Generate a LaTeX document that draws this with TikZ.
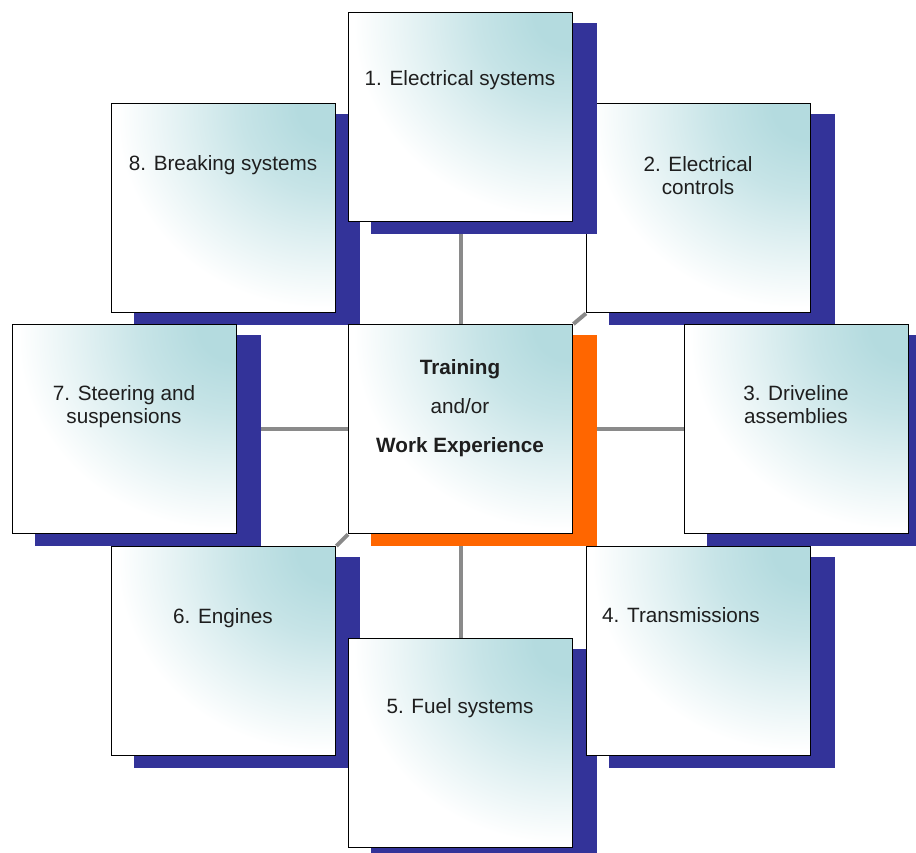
\documentclass[tikz,border=0pt]{standalone}
\usepackage{fontspec}
\setmainfont{Liberation Sans}
\usetikzlibrary{shadows}
\definecolor{tealc}{RGB}{180,219,223}
\definecolor{sblue}{RGB}{51,51,153}
\definecolor{sorange}{RGB}{255,102,0}
\definecolor{conn}{RGB}{138,138,138}
\definecolor{txt}{RGB}{30,30,30}
\pgfdeclareradialshading{boxshade}{\pgfpoint{25bp}{25bp}}{color(0bp)=(tealc); color(8bp)=(tealc); color(20bp)=(tealc!75!white); color(32bp)=(tealc!40!white); color(46bp)=(white); color(400bp)=(white)}
\pgfdeclarelayer{bg}
\pgfsetlayers{bg,main}
\newcommand\boxlines[1]{\begin{tabular}[t]{@{}c@{}}#1\end{tabular}}
\begin{document}
\begin{tikzpicture}[x=1pt,y=-1pt,
  boxn/.style={draw=black, line width=1.4pt, minimum width=224pt, minimum height=209pt,
    inner sep=0pt, anchor=north west, shade, shading=boxshade},
  bshadow/.style={drop shadow={shadow xshift=23.5pt, shadow yshift=-11.5pt,
    fill=#1, draw=#1, line width=1.5pt, opacity=1}},
  lbl/.style={anchor=base, inner sep=0pt, text=txt, font=\fontsize{20.7}{23}\selectfont},
  conline/.style={draw=conn, line width=4pt}]
\useasboundingbox (0,0) rectangle (916,853);
\clip (0,0) rectangle (916,853);
% boxes (drawing order matters for overlapping shadows)
\node[boxn, bshadow=sblue] (b8) at (111,103) {};
\node[boxn, bshadow=sblue] (b2) at (586,103) {};
\node[boxn, bshadow=sblue] (b1) at (348,12) {};
\node[boxn, bshadow=sblue] (b3) at (684,324) {};
\node[boxn, bshadow=sblue] (b7) at (12,324) {};
\node[boxn, bshadow=sblue] (b6) at (111,546) {};
\node[boxn, bshadow=sblue] (b5) at (348,638) {};
\node[boxn, bshadow=sblue] (b4) at (586,546) {};
\node[boxn, bshadow=sorange] (c) at (348,324) {};
% connectors
\begin{pgfonlayer}{bg}
\draw[conline] (c.north) -- (b1.south);
\draw[conline] (c.south) -- (b5.north);
\draw[conline] (c.west) -- (b7.east);
\draw[conline] (c.east) -- (b3.west);
\draw[conline] (c.north east) -- (b2.south west);
\draw[conline] (c.south west) -- (b6.north east);
\end{pgfonlayer}
% labels
\node[lbl] (t1) at (460,86) {1. Electrical systems};
\node[lbl] (t2) at (698,172) {\boxlines{2. Electrical\\controls}};
\node[lbl] (t3) at (796,400) {\boxlines{3. Driveline\\assemblies}};
\node[lbl] (t4) at (681,622) {4. Transmissions};
\node[lbl] (t5) at (460,713) {5. Fuel systems};
\node[lbl] (t6) at (223,623) {6. Engines};
\node[lbl] (t7) at (124,400) {\boxlines{7. Steering and\\suspensions}};
\node[lbl] (t8) at (223,171) {8. Breaking systems};
\node[lbl, font=\fontsize{20.7}{39}\selectfont] (tc) at (460,374)
  {\boxlines{\textbf{Training}\\and/or\\\textbf{Work Experience}}};
\end{tikzpicture}
\end{document}
